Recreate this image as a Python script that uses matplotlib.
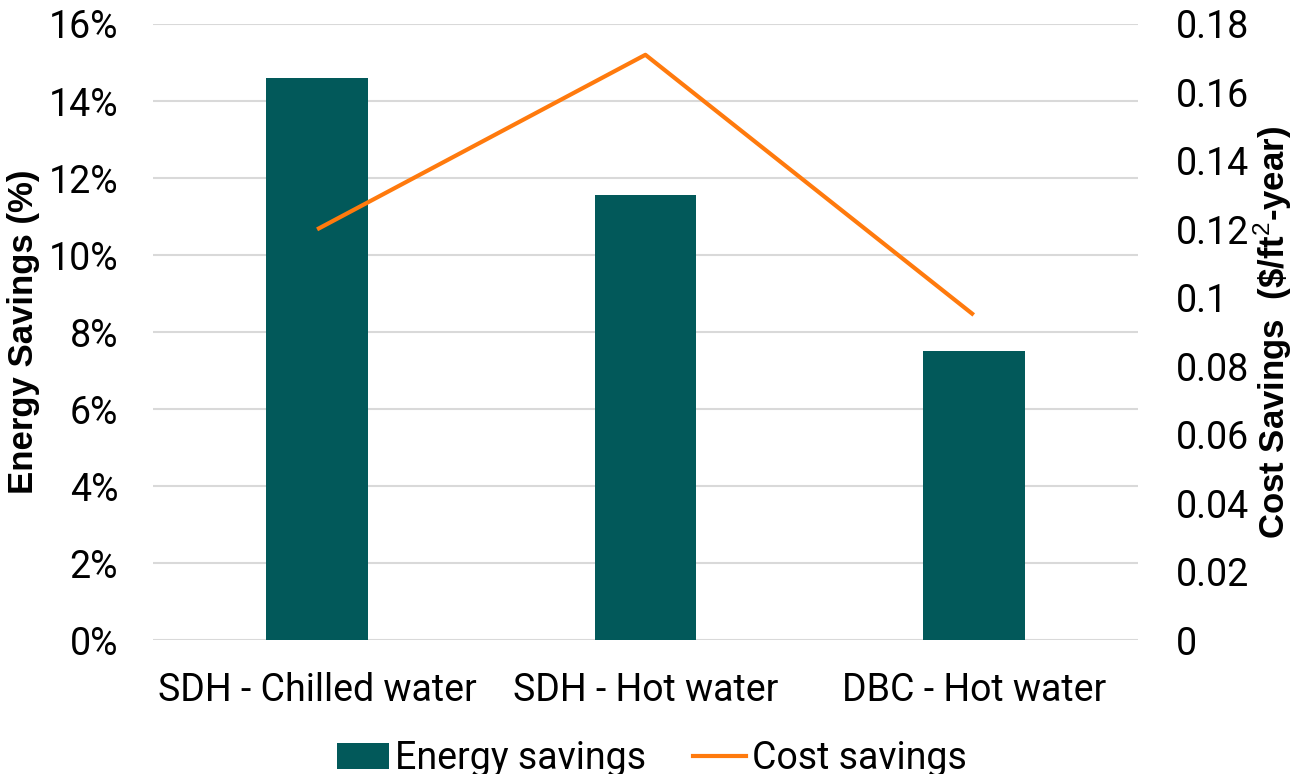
import matplotlib
matplotlib.use("Agg")
import matplotlib.pyplot as plt
from matplotlib.patches import Patch
from matplotlib.lines import Line2D

plt.rcParams.update({"font.family": ["Roboto", "DejaVu Sans"], "font.size": 20,
                     "mathtext.fontset": "custom",
                     "mathtext.rm": "Liberation Sans"})

categories = ["SDH - Chilled water", "SDH - Hot water", "DBC - Hot water"]
energy_savings = [14.6, 11.55, 7.5]        # %
cost_savings = [0.12, 0.171, 0.095]        # $/ft2-year
left_ticks = [0, 2, 4, 6, 8, 10, 12, 14, 16]
right_ticks = [0, 0.02, 0.04, 0.06, 0.08, 0.1, 0.12, 0.14, 0.16, 0.18]

BAR_C = "#02595A"
LINE_C = "#FF7A0D"
GRID_C = "#D9D9D9"

fig = plt.figure(figsize=(12.96, 7.74), dpi=100)
ax = fig.add_axes([0.118, 0.173, 0.760, 0.796])
ax2 = ax.twinx()

x = list(range(len(categories)))
ax.bar(x, energy_savings, width=0.31, color=BAR_C, zorder=3)
ax2.plot(x, cost_savings, color=LINE_C, lw=3, solid_capstyle="butt", zorder=4)

ax.set_xlim(-0.5, len(categories) - 0.5)
ax.set_ylim(0, 16)
ax2.set_ylim(0, 0.18)
ax.set_yticks(left_ticks)
ax.set_yticklabels([f"{v}%" for v in left_ticks])
ax2.set_yticks(right_ticks)
ax2.set_yticklabels([f"{v:g}" for v in right_ticks])
ax.set_xticks(x)
ax.set_xticklabels(categories)

ax.yaxis.grid(True, color=GRID_C, lw=1.5, zorder=0)
ax.set_axisbelow(True)
for a in (ax, ax2):
    for s in a.spines.values():
        s.set_visible(False)
ax.tick_params(axis="y", length=0, pad=25, labelsize=27)
ax.tick_params(axis="x", length=0, pad=23, labelsize=27)
ax2.tick_params(axis="y", length=0, pad=27, labelsize=27)

lab_font = dict(family=["Liberation Sans", "DejaVu Sans"], fontweight="bold", fontsize=25)
ax.set_ylabel("Energy Savings (%)", labelpad=6, **lab_font)
ax2.set_ylabel(r"Cost Savings  (\$/ft$^{\mathrm{2}}$-year)", labelpad=2, **lab_font)

handles = [Patch(facecolor=BAR_C), Line2D([0], [0], color=LINE_C, lw=3)]
fig.legend(handles, ["Energy savings", "Cost savings"], loc="center",
           bbox_to_anchor=(0.503, 0.02), ncol=2, frameon=False, fontsize=27,
           handlelength=1.39, handleheight=0.67, handletextpad=0.16,
           columnspacing=1.25, borderpad=0.1)

fig.savefig("out.png", dpi=100)
